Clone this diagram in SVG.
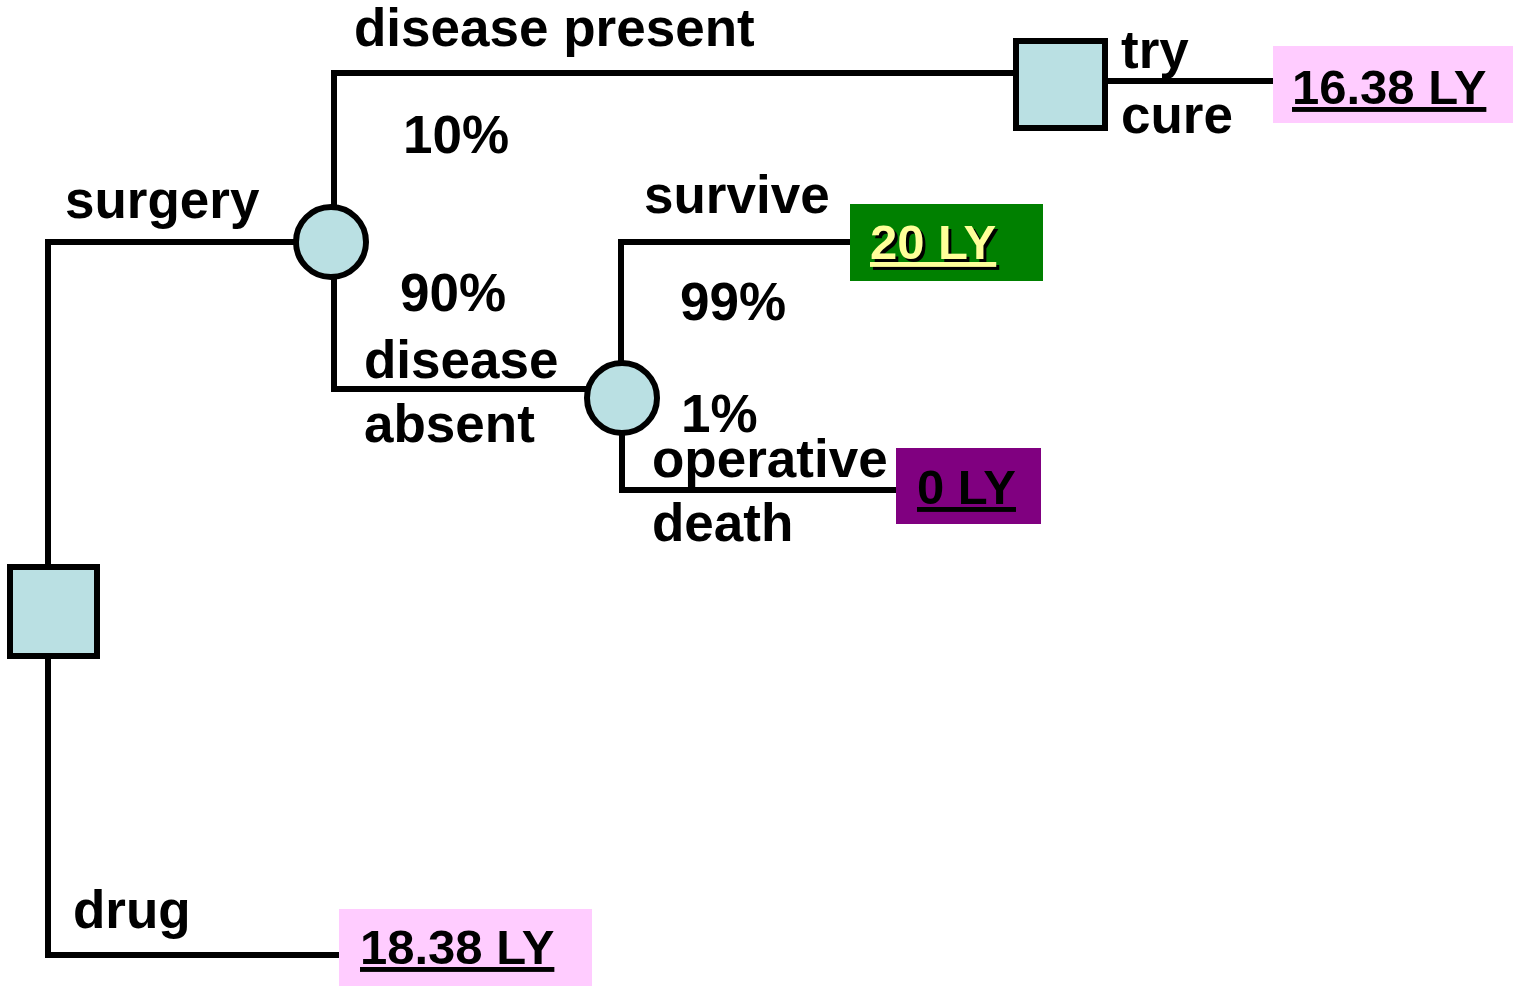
<svg xmlns="http://www.w3.org/2000/svg" width="1513" height="988" viewBox="0 0 1513 988">
<style>
.ln{fill:none;stroke:#000;stroke-width:6}
.nd{fill:#BAE0E3;stroke:#000;stroke-width:6}
.lb{font-family:"Liberation Sans",Arial,sans-serif;font-weight:bold;font-size:53px;fill:#000}
.vl{font-family:"Liberation Sans",Arial,sans-serif;font-weight:bold;font-size:49px;text-decoration:underline}
</style>
<rect width="1513" height="988" fill="#fff"/>
<g id="connectors">
<polyline class="ln" points="48,567 48,242 296,242"/>
<line class="ln" x1="48" y1="656" x2="48" y2="955"/>
<line class="ln" x1="45" y1="955" x2="339" y2="955"/>
<polyline class="ln" points="334,207 334,73 1016,73"/>
<polyline class="ln" points="334,277 334,389 587,389"/>
<line class="ln" x1="1105" y1="81" x2="1273" y2="81"/>
<polyline class="ln" points="621,363 621,242 850,242"/>
<polyline class="ln" points="622,433 622,490 897,490"/>
</g>
<g id="decision1"><rect class="nd" x="10" y="567" width="87" height="89"/></g>
<g id="chance1"><circle class="nd" cx="331" cy="242" r="35"/></g>
<g id="chance2"><circle class="nd" cx="622" cy="398" r="35"/></g>
<g id="decision2"><rect class="nd" x="1016" y="41" width="89" height="87"/></g>
<g id="out1"><rect x="1273" y="46" width="240" height="77" fill="#FFCCFF"/><text class="vl" x="1292" y="104" fill="#000">16.38 LY</text></g>
<g id="out2"><rect x="850" y="204" width="193" height="77" fill="#008000"/><text class="vl" x="873" y="262" fill="#000">20 LY</text><text class="vl" x="870" y="259" fill="#FFFF99">20 LY</text></g>
<g id="out3"><rect x="896" y="448" width="145" height="76" fill="#800080"/><text class="vl" x="917" y="504" fill="#000">0 LY</text></g>
<g id="out4"><rect x="339" y="909" width="253" height="77" fill="#FFCCFF"/><text class="vl" x="360" y="964" fill="#000">18.38 LY</text></g>
<g id="labels">
<text class="lb" x="354" y="46">disease present</text>
<text class="lb" x="403" y="153">10%</text>
<text class="lb" x="65" y="218">surgery</text>
<text class="lb" x="400" y="311">90%</text>
<text class="lb" x="364" y="378">disease</text>
<text class="lb" x="364" y="442">absent</text>
<text class="lb" x="644" y="213">survive</text>
<text class="lb" x="680" y="320">99%</text>
<text class="lb" x="681" y="432">1%</text>
<text class="lb" x="652" y="477">operative</text>
<text class="lb" x="652" y="541">death</text>
<text class="lb" x="1121" y="68">try</text>
<text class="lb" x="1121" y="133">cure</text>
<text class="lb" x="73" y="928">drug</text>
</g>
</svg>
